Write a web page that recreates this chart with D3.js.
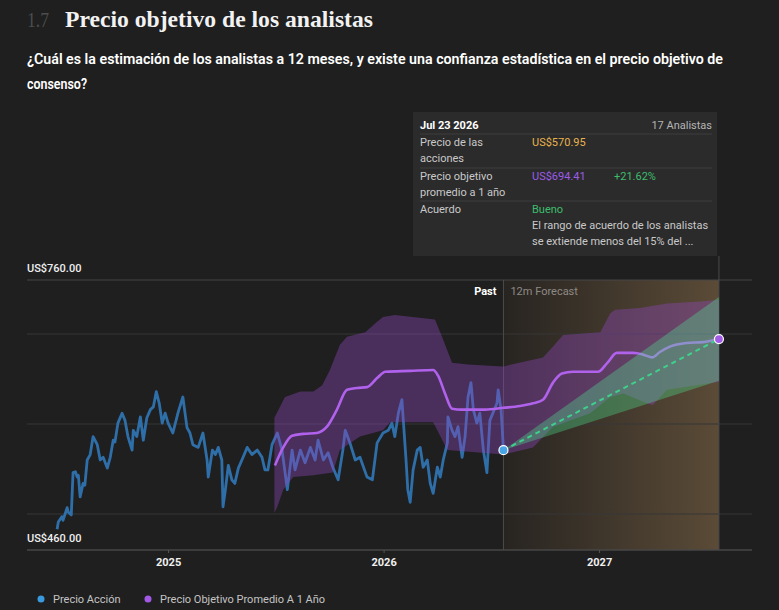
<!DOCTYPE html>
<html>
<head>
<meta charset="utf-8">
<script src="https://cdn.jsdelivr.net/npm/d3@7"></script>
<style>
  body { margin: 0; background: #1f1f1f; }
  svg { display: block; font-family: Roboto, "Noto Sans", sans-serif; }
</style>
</head>
<body>
<svg id="chart" width="779" height="610"></svg>
<script>
// ---- data ----
const priceDates = ["2024-06-27","2024-06-29","2024-07-05","2024-07-07","2024-07-14","2024-07-16","2024-07-21","2024-07-24","2024-07-28","2024-07-31","2024-08-02","2024-08-05","2024-08-10","2024-08-13","2024-08-17","2024-08-22","2024-08-27","2024-09-03","2024-09-08","2024-09-13","2024-09-20","2024-09-25","2024-09-30","2024-10-03","2024-10-08","2024-10-15","2024-10-20","2024-10-25","2024-11-01","2024-11-03","2024-11-09","2024-11-15","2024-11-20","2024-11-26","2024-12-02","2024-12-07","2024-12-12","2024-12-17","2024-12-22","2024-12-27","2025-01-01","2025-01-09","2025-01-18","2025-01-26","2025-02-02","2025-02-07","2025-02-12","2025-02-21","2025-03-01","2025-03-08","2025-03-10","2025-03-17","2025-03-22","2025-03-27","2025-04-02","2025-04-04","2025-04-08","2025-04-13","2025-04-19","2025-04-24","2025-04-30","2025-05-08","2025-05-15","2025-05-23","2025-06-01","2025-06-09","2025-06-14","2025-06-19","2025-06-26","2025-07-05","2025-07-13","2025-07-22","2025-07-30","2025-08-04","2025-08-13","2025-08-21","2025-08-30","2025-09-07","2025-09-12","2025-09-21","2025-09-29","2025-10-07","2025-10-16","2025-10-24","2025-10-28","2025-11-05","2025-11-14","2025-11-22","2025-12-04","2025-12-13","2025-12-21","2025-12-31","2026-01-09","2026-01-15","2026-01-20","2026-01-26","2026-02-01","2026-02-03","2026-02-08","2026-02-11","2026-02-15","2026-02-20","2026-02-27","2026-03-04","2026-03-09","2026-03-16","2026-03-21","2026-03-26","2026-04-02","2026-04-07","2026-04-12","2026-04-19","2026-04-20","2026-04-27","2026-05-02","2026-05-07","2026-05-14","2026-05-19","2026-05-24","2026-05-29","2026-06-02","2026-06-08","2026-06-13","2026-06-19","2026-06-25","2026-06-30","2026-07-05","2026-07-12","2026-07-14","2026-07-19","2026-07-23"];
const priceValues = [483,491,497,493,507,502,499,546,547,541,543,519,534,532,560,566,586,577,560,563,551,563,582,580,601,612,604,586,571,593,586,608,582,607,616,619,636,623,601,612,601,590,613,630,596,590,577,574,590,560,541,571,566,574,560,508,527,554,538,534,551,563,574,566,571,563,549,549,577,590,571,527,571,549,571,557,574,560,582,560,568,552,538,571,593,579,560,563,541,538,579,590,593,601,586,612,627,608,560,527,513,549,571,574,552,560,534,523,552,541,560,579,608,593,586,597,563,586,630,646,616,601,612,571,546,604,612,623,638,616,570.95];

const targetDates = ["2025-07-01","2025-07-15","2025-07-30","2025-08-18","2025-09-10","2025-09-27","2025-10-14","2025-10-31","2025-11-17","2025-12-04","2025-12-21","2026-01-04","2026-02-15","2026-03-26","2026-04-03","2026-04-15","2026-04-27","2026-05-14","2026-06-22","2026-07-23","2026-08-20","2026-09-11","2026-09-28","2026-10-15","2026-10-30","2026-11-18","2026-12-30","2027-01-15","2027-01-31","2027-02-28","2027-03-17","2027-04-01","2027-04-14","2027-05-01","2027-05-30","2027-06-26","2027-07-23"];
const targetValues = [554,574,587,589,590,597,616,638,640,641,651,658,659,660,654,634,617,616,616,618,620,623,627,646,656,658,658,668,679,679,677,674,680,686,690,691,694.41];

const highDates = ["2025-06-30","2025-07-18","2025-08-13","2025-09-04","2025-09-19","2025-10-02","2025-10-19","2025-10-31","2025-12-01","2025-12-18","2025-12-31","2026-01-20","2026-03-29","2026-04-10","2026-04-27","2026-05-24","2026-07-23","2026-09-28","2026-10-15","2026-11-01","2027-01-03","2027-01-20","2027-01-28","2027-03-11","2027-04-26","2027-06-21","2027-07-23"];
const highValues = [607,630,636,636,643,660,688,697,702,712,719,721,716,697,668,666,664,674,686,699,702,723,727,729,734,736,738];

const lowDates = ["2025-06-30","2025-07-05","2025-07-15","2025-08-01","2025-09-04","2025-10-07","2025-10-19","2025-11-22","2025-12-31","2026-01-12","2026-03-26","2026-04-19","2026-07-23","2026-09-11","2026-10-15","2026-12-17","2027-01-20","2027-02-11","2027-03-23","2027-04-02","2027-04-26","2027-07-23"];
const lowValues = [501,508,527,541,543,546,571,586,593,602,602,571,566,574,597,612,630,634,623,621,638,647];

const coneDates = ["2026-07-23","2027-07-23"];
const coneHigh = [570.95, 741];
const coneLow = [570.95, 648];

const yearTicks = ["2025-01-01","2026-01-01","2027-01-01"];
const gridValues = [500, 600, 700, 760];
const yLabels = [760, 460];
const forecastStart = "2026-07-23";
const forecastEnd = "2027-07-23";

// ---- setup ----
const parse = d3.timeParse("%Y-%m-%d");
const svg = d3.select("#chart");

const x = d3.scaleTime()
    .domain([parse("2024-05-07"), parse("2027-09-17")])
    .range([27, 752]);
const y = d3.scaleLinear()
    .domain([460, 760])
    .range([550, 280]);

const price = priceDates.map((d, i) => ({ date: parse(d), value: priceValues[i] }));
const target = targetDates.map((d, i) => ({ date: parse(d), value: targetValues[i] }));
const high = highDates.map((d, i) => ({ date: parse(d), value: highValues[i] }));
const low = lowDates.map((d, i) => ({ date: parse(d), value: lowValues[i] }));
const cone = coneDates.map((d, i) => ({ date: parse(d), hi: coneHigh[i], lo: coneLow[i] }));

// title
svg.append("text").attr("x", 27).attr("y", 27)
    .attr("font-family", "'Liberation Serif', 'DejaVu Serif', serif")
    .attr("font-size", 21).attr("fill", "#4d4d4d")
    .attr("textLength", 22).attr("lengthAdjust", "spacingAndGlyphs")
    .text("1.7");
svg.append("text").attr("x", 65).attr("y", 27)
    .attr("font-family", "'Liberation Serif', 'DejaVu Serif', serif")
    .attr("font-size", 23).attr("font-weight", 700).attr("fill", "#f2f2f2")
    .attr("textLength", 308).attr("lengthAdjust", "spacingAndGlyphs")
    .text("Precio objetivo de los analistas");

svg.append("text").attr("x", 27).attr("y", 64)
    .attr("font-size", 14).attr("font-weight", 600).attr("fill", "#ffffff")
    .attr("textLength", 696).attr("lengthAdjust", "spacingAndGlyphs")
    .text("¿Cuál es la estimación de los analistas a 12 meses, y existe una confianza estadística en el precio objetivo de");
svg.append("text").attr("x", 27).attr("y", 89)
    .attr("font-size", 14).attr("font-weight", 600).attr("fill", "#ffffff")
    .attr("textLength", 60).attr("lengthAdjust", "spacingAndGlyphs")
    .text("consenso?");

// forecast background
const defs = svg.append("defs");
const grad = defs.append("linearGradient").attr("id", "fcBg")
    .attr("x1", "0%").attr("x2", "100%").attr("y1", "0%").attr("y2", "0%");
grad.append("stop").attr("offset", "0%").attr("stop-color", "#272421");
grad.append("stop").attr("offset", "100%").attr("stop-color", "#5b4b37");

const fx0 = x(parse(forecastStart)), fx1 = x(parse(forecastEnd));
svg.append("rect")
    .attr("x", fx0).attr("y", y(760))
    .attr("width", fx1 - fx0).attr("height", y(460) - y(760))
    .attr("fill", "url(#fcBg)");

// gridlines
svg.selectAll(".grid")
    .data(gridValues)
    .join("line")
    .attr("x1", 27).attr("x2", 752)
    .attr("y1", d => y(d)).attr("y2", d => y(d))
    .attr("stroke", d => d === 760 ? "#474747" : "#363636")
    .attr("stroke-width", 1);

// divider + hover line
svg.append("line").attr("x1", fx0).attr("x2", fx0)
    .attr("y1", y(760)).attr("y2", y(460))
    .attr("stroke", "#4e4a45").attr("stroke-width", 1);
svg.append("line").attr("x1", fx1).attr("x2", fx1)
    .attr("y1", 256).attr("y2", y(460))
    .attr("stroke", "#4a4a4a").attr("stroke-width", 1);

// price line
svg.append("path")
    .datum(price)
    .attr("fill", "none")
    .attr("stroke", "#2f6fa9")
    .attr("stroke-width", 2.8)
    .attr("stroke-linejoin", "round")
    .attr("d", d3.line().x(d => x(d.date)).y(d => y(d.value)));

// analyst range band
const bandPts = high.concat(low.slice().reverse());
svg.append("path")
    .attr("fill", "#9048c0")
    .attr("fill-opacity", 0.38)
    .attr("d", d3.line().x(d => x(d.date)).y(d => y(d.value))(bandPts) + "Z");

// mean target line
svg.append("path")
    .datum(target)
    .attr("fill", "none")
    .attr("stroke", "#b062ec")
    .attr("stroke-width", 2.6)
    .attr("d", d3.line().curve(d3.curveMonotoneX).x(d => x(d.date)).y(d => y(d.value)));

// forecast cone
svg.append("path")
    .datum(cone)
    .attr("fill", "#4fe890")
    .attr("fill-opacity", 0.34)
    .attr("d", d3.area().x(d => x(d.date)).y0(d => y(d.lo)).y1(d => y(d.hi)));

const last = price[price.length - 1];
const tEnd = target[target.length - 1];
svg.append("line")
    .attr("x1", x(last.date)).attr("y1", y(last.value))
    .attr("x2", x(tEnd.date)).attr("y2", y(tEnd.value))
    .attr("stroke", "#3fd08c").attr("stroke-width", 2)
    .attr("stroke-dasharray", "5,4");

svg.append("circle").attr("cx", x(last.date)).attr("cy", y(last.value)).attr("r", 4.5)
    .attr("fill", "#49a6e6").attr("stroke", "#ffffff").attr("stroke-width", 1.2);
svg.append("circle").attr("cx", x(tEnd.date)).attr("cy", y(tEnd.value)).attr("r", 4.5)
    .attr("fill", "#a35be6").attr("stroke", "#ffffff").attr("stroke-width", 1.2);

// past / forecast labels
svg.append("text").attr("x", fx0 - 7).attr("y", 295).attr("text-anchor", "end")
    .attr("font-size", 11).attr("font-weight", 700).attr("fill", "#ffffff").text("Past");
svg.append("text").attr("x", fx0 + 7).attr("y", 295)
    .attr("font-size", 11).attr("fill", "#8e8a85").text("12m Forecast");

// axes
svg.append("line").attr("x1", 27).attr("x2", 752).attr("y1", y(460)).attr("y2", y(460))
    .attr("stroke", "#474747").attr("stroke-width", 1.5);

const xAxis = svg.append("g")
    .attr("transform", `translate(0,${y(460)})`)
    .call(d3.axisBottom(x).tickValues(yearTicks.map(parse)).tickFormat(d3.timeFormat("%Y")).tickSize(3).tickPadding(5));
xAxis.select(".domain").remove();
xAxis.selectAll(".tick line").attr("stroke", "#555");
xAxis.selectAll(".tick text")
    .attr("fill", "#f0f0f0").attr("font-size", 11).attr("font-weight", 700)
    .attr("font-family", "Roboto, sans-serif");

svg.selectAll(".ylab")
    .data(yLabels)
    .join("text")
    .attr("x", 27).attr("y", d => y(d) - 8)
    .attr("font-size", 11).attr("font-weight", 500).attr("fill", "#f0f0f0")
    .text(d => "US$" + d3.format(".2f")(d));

// tooltip box
const tip = svg.append("g");
tip.append("rect").attr("x", 413).attr("y", 112).attr("width", 304).attr("height", 144)
    .attr("fill", "#2b2b2b");
[134, 168, 201].forEach(v => {
    tip.append("line").attr("x1", 420).attr("x2", 712).attr("y1", v).attr("y2", v)
        .attr("stroke", "#3f3f3f");
});
const tipText = [
    { x: 420, y: 129, t: "Jul 23 2026", c: "#ffffff", w: 700 },
    { x: 712, y: 129, t: "17 Analistas", c: "#b5b5b5", a: "end" },
    { x: 420, y: 146, t: "Precio de las", c: "#c9c9c9" },
    { x: 420, y: 162, t: "acciones", c: "#c9c9c9" },
    { x: 532, y: 146, t: "US$570.95", c: "#e8b24d" },
    { x: 420, y: 180, t: "Precio objetivo", c: "#c9c9c9" },
    { x: 420, y: 196, t: "promedio a 1 año", c: "#c9c9c9" },
    { x: 532, y: 180, t: "US$694.41", c: "#9c5ce8" },
    { x: 614, y: 180, t: "+21.62%", c: "#3dbd6c" },
    { x: 420, y: 213, t: "Acuerdo", c: "#c9c9c9" },
    { x: 532, y: 213, t: "Bueno", c: "#3dbd6c" },
    { x: 532, y: 229, t: "El rango de acuerdo de los analistas", c: "#c9c9c9" },
    { x: 532, y: 245, t: "se extiende menos del 15% del ...", c: "#c9c9c9" }
];
tip.selectAll(".tt")
    .data(tipText)
    .join("text")
    .attr("x", d => d.x).attr("y", d => d.y)
    .attr("text-anchor", d => d.a || "start")
    .attr("font-size", 11)
    .attr("font-weight", d => d.w || 400)
    .attr("fill", d => d.c)
    .text(d => d.t);

// legend
const legend = [
    { label: "Precio Acción", color: "#3a9ae0", x: 41 },
    { label: "Precio Objetivo Promedio A 1 Año", color: "#a259e6", x: 148 }
];
const lg = svg.selectAll(".lg").data(legend).join("g");
lg.append("circle").attr("cx", d => d.x).attr("cy", 599).attr("r", 3.5).attr("fill", d => d.color);
lg.append("text").attr("x", d => d.x + 12).attr("y", 603)
    .attr("font-size", 11).attr("fill", "#c4c4c4").text(d => d.label);
</script>
</body>
</html>
